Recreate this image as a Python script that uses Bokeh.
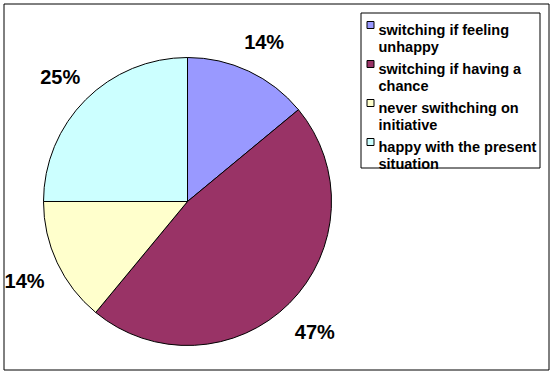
import math

from bokeh.core.properties import value
from bokeh.embed import file_html
from bokeh.models import ColumnDataSource, Range1d
from bokeh.plotting import figure
from bokeh.resources import INLINE

# Survey answers and their shares (percent)
categories = [
    "switching if feeling\nunhappy",
    "switching if having a\nchance",
    "never swithching on\ninitiative",
    "happy with the present\nsituation",
]
shares = [14, 47, 14, 25]
colors = ["#9999FF", "#993366", "#FFFFCC", "#CCFFFF"]

W, H = 553, 373
FONT = value("Liberation Sans")

# pie geometry in pixel-like data units (y measured from the bottom)
CX, CY, R = 187, H - 201, 144
LABEL_R = 180

p = figure(
    width=W, height=H,
    x_range=Range1d(0, W), y_range=Range1d(0, H),
    output_backend="svg", toolbar_location=None,
    min_border=0, x_axis_location=None, y_axis_location=None,
    outline_line_color=None,
    background_fill_color="white", border_fill_color="white",
)
p.grid.visible = False

# slices start at 12 o'clock and run clockwise
total = sum(shares)
starts, ends, mids = [], [], []
acc = 0
for s in shares:
    a0 = math.pi / 2 - 2 * math.pi * acc / total
    acc += s
    a1 = math.pi / 2 - 2 * math.pi * acc / total
    starts.append(a1)
    ends.append(a0)
    mids.append((a0 + a1) / 2)

pie = ColumnDataSource(dict(
    start=starts, end=ends, color=colors,
    lx=[CX + LABEL_R * math.cos(m) for m in mids],
    ly=[CY + LABEL_R * math.sin(m) for m in mids],
    label=[f"{s}%" for s in shares],
))

# outer chart frame
p.quad(left=3.5, right=548.5, top=H - 3.5, bottom=H - 369.5,
       fill_color=None, line_color="black", line_width=1)

p.wedge(x=CX, y=CY, radius=R, start_angle="start", end_angle="end",
        direction="anticlock", fill_color="color", line_color="black",
        line_width=1, source=pie)

p.text(x="lx", y="ly", text="label", source=pie, y_offset=3,
       text_font=FONT, text_font_style="bold", text_font_size="20px",
       text_align="center", text_baseline="middle", text_color="black")

# legend box with wrapped entries
p.quad(left=360.5, right=539.5, top=H - 12.5, bottom=H - 167.5,
       fill_color="white", line_color="black", line_width=1)

ENTRY_STEP, LINE_STEP = 39, 17
mx, my, tx, ty = [], [], [], []
lines = []
for i, cat in enumerate(categories):
    mx.append(370)
    my.append(H - (24.5 + ENTRY_STEP * i))
    for j, line in enumerate(cat.split("\n")):
        tx.append(378)
        ty.append(H - (29.5 + ENTRY_STEP * i + LINE_STEP * j))
        lines.append(line)

p.rect(x=mx, y=my, width=7, height=7, fill_color=colors,
       line_color="black", line_width=1)
p.text(x=tx, y=ty, text=lines, text_font=FONT, text_font_style="bold",
       text_font_size="14.5px", text_align="left",
       text_baseline="alphabetic", text_color="black")

open("out.html", "w").write(file_html(p, INLINE))
